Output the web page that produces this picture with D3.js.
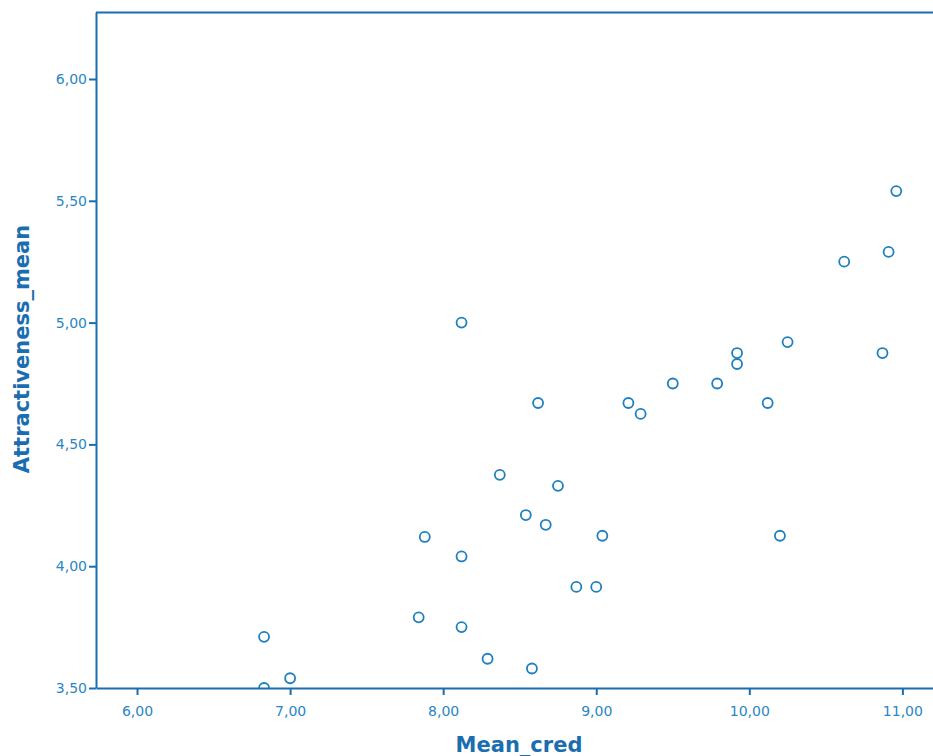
<!DOCTYPE html>
<html>
<head>
<meta charset="utf-8">
<script src="https://cdn.jsdelivr.net/npm/d3@7"></script>
<style>
  body { margin: 0; background: #fff; }
  svg { display: block; }
</style>
</head>
<body>
<svg id="chart" width="933" height="756"></svg>
<script>
var meanCred = [6.83, 6.83, 7.00, 7.84, 7.88, 8.12, 8.12, 8.12, 8.29, 8.37, 8.54, 8.58, 8.62, 8.67, 8.75, 8.87,
                9.00, 9.04, 9.21, 9.29, 9.50, 9.79, 9.92, 9.92, 10.12, 10.20, 10.25, 10.62, 10.87, 10.91, 10.96];
var attractMean = [3.71, 3.50, 3.54, 3.79, 4.12, 5.00, 4.04, 3.75, 3.62, 4.375, 4.21, 3.58, 4.67, 4.17, 4.33, 3.915,
                   3.915, 4.125, 4.67, 4.625, 4.75, 4.75, 4.875, 4.83, 4.67, 4.125, 4.92, 5.25, 4.875, 5.29, 5.54];
var xTicks = [6, 7, 8, 9, 10, 11];
var yTicks = [3.5, 4, 4.5, 5, 5.5, 6];

var points = meanCred.map(function (d, i) { return { x: d, y: attractMean[i] }; });

var svg = d3.select("#chart");
// plot box (don't call these top/left at global scope, window.top is read-only)
var plotL = 96, plotT = 12, plotR = 933, plotB = 688;
var axisColor = "#1a6eb0", labelColor = "#2a86c3";

var x = d3.scaleLinear().domain([5.732, 11.2]).range([plotL, plotR]);
var y = d3.scaleLinear().domain([3.5, 6.275]).range([plotB, plotT]);

var fmt = function (d) { return d3.format(".2f")(d).replace(".", ","); };

svg.append("clipPath").attr("id", "plotclip")
    .append("rect").attr("x", plotL).attr("y", plotT).attr("width", plotR - plotL).attr("height", plotB - plotT);

// frame top line
svg.append("line")
    .attr("x1", plotL).attr("x2", plotR).attr("y1", plotT + 0.5).attr("y2", plotT + 0.5)
    .attr("stroke", axisColor).attr("stroke-width", 2);

var xAxis = svg.append("g")
    .attr("transform", "translate(0," + plotB + ")")
    .call(d3.axisBottom(x).tickValues(xTicks).tickFormat(fmt).tickSize(7).tickSizeOuter(0));

var yAxis = svg.append("g")
    .attr("transform", "translate(" + plotL + ",0)")
    .call(d3.axisLeft(y).tickValues(yTicks).tickFormat(fmt).tickSize(7).tickSizeOuter(0));

[xAxis, yAxis].forEach(function (g) {
    g.select(".domain").attr("stroke", axisColor).attr("stroke-width", 2);
    g.selectAll(".tick line").attr("stroke", axisColor).attr("stroke-width", 2);
    g.selectAll(".tick text")
        .attr("fill", labelColor)
        .style("font-family", "'DejaVu Sans', sans-serif")
        .style("font-size", "14px");
});
xAxis.selectAll(".tick text").attr("dy", "1.3em");
yAxis.selectAll(".tick text").attr("x", -9);

svg.append("g").attr("clip-path", "url(#plotclip)")
    .selectAll("circle")
    .data(points)
    .enter()
    .append("circle")
    .attr("cx", function (d) { return x(d.x); })
    .attr("cy", function (d) { return y(d.y); })
    .attr("r", 5)
    .attr("fill", "none")
    .attr("stroke", "#1f7fbf")
    .attr("stroke-width", 1.8);

svg.append("text")
    .attr("x", 519)
    .attr("y", 752)
    .attr("text-anchor", "middle")
    .attr("fill", axisColor)
    .style("font-family", "'DejaVu Sans', sans-serif")
    .style("font-size", "21px")
    .style("font-weight", "bold")
    .text("Mean_cred");

svg.append("text")
    .attr("transform", "translate(29,349) rotate(-90)")
    .attr("text-anchor", "middle")
    .attr("fill", axisColor)
    .style("font-family", "'DejaVu Sans', sans-serif")
    .style("font-size", "21px")
    .style("font-weight", "bold")
    .text("Attractiveness_mean");
</script>
</body>
</html>
